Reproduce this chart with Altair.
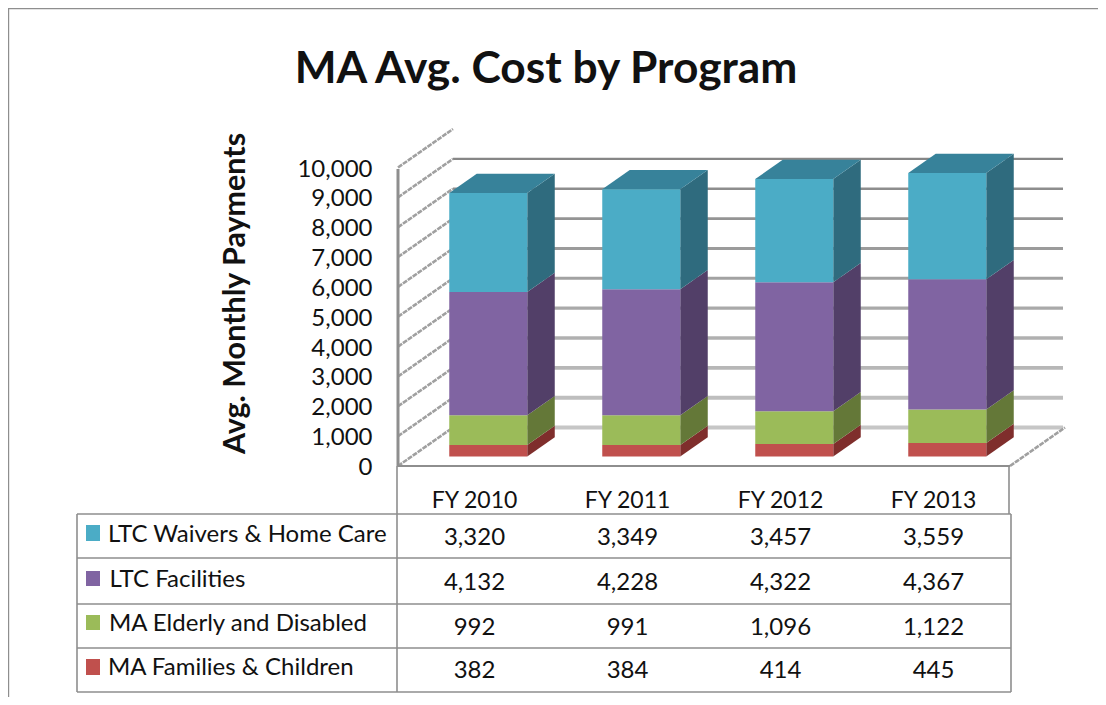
import altair as alt
import pandas as pd

title = "MA Avg. Cost by Program"
y_title = "Avg. Monthly Payments"
years = ["FY 2010", "FY 2011", "FY 2012", "FY 2013"]
families = [382, 384, 414, 445]
elderly = [992, 991, 1096, 1122]
facilities = [4132, 4228, 4322, 4367]
waivers = [3320, 3349, 3457, 3559]
ticks = [0, 1000, 2000, 3000, 4000, 5000, 6000, 7000, 8000, 9000, 10000]
grid_values = [0, 1000, 2000, 3000, 4000, 5000, 6000, 7000, 8000, 9000]

# bottom of the stack first
series = [
    ("MA Families & Children", families, "#C0504D", "#7F2E2C"),
    ("MA Elderly and Disabled", elderly, "#9BBB59", "#647838"),
    ("LTC Facilities", facilities, "#8064A2", "#523F68"),
    ("LTC Waivers & Home Care", waivers, "#4BACC6", "#2F6B7E"),
]
TOP_FACE = "#37829A"
LINE = "#8E8E8E"
FONT = "Lato"

# page geometry
W, H = 1090, 689
LEFT, TOP = 398, 130        # page position of the view corner
VW, VH = 665, 336
PX_UNIT, PX_VAL = 153.0, 0.02985
BASE = 466


def ux(px):
    return (px - LEFT) / PX_UNIT


def uy(py):
    return (BASE - py) / PX_VAL


DX, DY = 55 / PX_UNIT, 38.5 / PX_VAL    # depth of the 3-D box in data units
BAR_W = 78 / PX_UNIT

xs = alt.Scale(domain=[0, VW / PX_UNIT], range=[0, VW], nice=False, zero=False)
ys = alt.Scale(domain=[0, VH / PX_VAL], range=[VH, 0], nice=False, zero=False)
X = alt.X("x:Q", scale=xs, axis=None)
Y = alt.Y("y:Q", scale=ys, axis=None)
X2, Y2 = alt.X2("x2:Q"), alt.Y2("y2:Q")
COLOR = alt.Color("c:N", scale=None)
SIZE = alt.Size("w:Q", scale=None)


def gray(v):
    f = v / 9000
    n = int(198 - (198 - 134) * f)
    return f"#{n:02x}{n:02x}{n:02x}"


# back-wall gridlines
grid = pd.DataFrame([
    {"x": DX, "x2": ux(1063), "y": v + DY, "y2": v + DY, "c": gray(v),
     "w": 4.2 - 1.8 * v / 9000} for v in grid_values])
axis_layer = alt.Chart(pd.DataFrame({"y": ticks})).mark_point(opacity=0).encode(
    y=alt.Y("y:Q", scale=ys, axis=alt.Axis(
        values=ticks, format=",d", domain=False, ticks=False, grid=False,
        labelPadding=26, labelFont=FONT, labelFontSize=24, labelColor="#111111", labelOffset=1.5,
        title=y_title, titleFont=FONT, titleFontSize=30.5, titleFontWeight="bold",
        titleColor="#111111", titleX=-148, titleY=163)),
    x=alt.value(0))
grid_layer = alt.Chart(grid).mark_rule().encode(x=X, x2=X2, y=Y, y2=Y2, color=COLOR, size=SIZE)

# side-wall diagonals
diag = pd.DataFrame([{"x": 0, "x2": DX, "y": v, "y2": v + DY} for v in ticks])
diag = pd.concat([diag, pd.DataFrame([{"x": ux(1010), "x2": ux(1010) + DX, "y": 0, "y2": DY}])])
diag_layer = alt.Chart(diag).mark_rule(color="#A0A0A0", strokeWidth=2.6, strokeDash=[5, 1]).encode(
    x=X, x2=X2, y=Y, y2=Y2)

# bars
fronts = []
face_layers = []


def face(points, col):
    return alt.Chart(pd.DataFrame(points, columns=["x", "y", "y2"])).mark_area(
        color=col, orient="vertical", interpolate="linear", opacity=1).encode(x=X, y=Y, y2=Y2)


for i in range(len(years)):
    x0 = i + 0.5 - BAR_W / 2 + 0.25 * DX
    x1 = x0 + BAR_W
    d, h = 0.5 * DX, 0.5 * DY
    low = 0.25 * DY
    for name, vals, col, side in series:
        up = low + vals[i]
        fronts.append({"x": x0, "x2": x1, "y": low, "y2": up, "c": col})
        face_layers.append(face([(x1, low, up), (x1 + d, low + h, up + h)], side))
        low = up
    face_layers.append(face([(x0, low, low), (x0 + d, low, low + h), (x1, low, low + h),
                             (x1 + d, low + h, low + h)], TOP_FACE))

front_layer = alt.Chart(pd.DataFrame(fronts)).mark_rect().encode(x=X, x2=X2, y=Y, y2=Y2, color=COLOR)

# frame, table rules
r_edges = [514, 558, 604, 648, 692]
lines = [
    {"x": ux(8), "x2": ux(8), "y": uy(8), "y2": uy(705), "w": 2.4},
    {"x": ux(8), "x2": ux(1106), "y": uy(8), "y2": uy(8), "w": 2.4},
    {"x": ux(398), "x2": ux(398), "y": uy(169), "y2": uy(466), "w": 3},
    {"x": ux(397), "x2": ux(1010), "y": uy(466), "y2": uy(466), "w": 2},
    {"x": ux(397), "x2": ux(397), "y": uy(466), "y2": uy(692), "w": 1.6},
    {"x": ux(1009), "x2": ux(1009), "y": uy(466), "y2": uy(514), "w": 1.6},
    {"x": ux(1011), "x2": ux(1011), "y": uy(514), "y2": uy(692), "w": 1.6},
    {"x": ux(77), "x2": ux(77), "y": uy(514), "y2": uy(692), "w": 1.6},
]
for e in r_edges:
    lines.append({"x": ux(77), "x2": ux(1011), "y": uy(e), "y2": uy(e), "w": 1.6})
line_layer = alt.Chart(pd.DataFrame(lines)).mark_rule(color=LINE).encode(x=X, x2=X2, y=Y, y2=Y2, size=SIZE)

# table contents
row_y = [537.5, 582.5, 628, 671]
label_y = [535, 580, 624, 668]
label_x = [108, 109.5, 109, 108]
swatch_y = [(525, 541), (571, 586), (615, 630), (659, 675)]
heads, table, labels, swatches = [], [], [], []
for i, y in enumerate(years):
    heads.append({"x": i + 0.5, "y": uy(501), "t": y})
for r, (name, vals, col, side) in enumerate(reversed(series)):
    labels.append({"x": ux(label_x[r]), "y": uy(label_y[r]), "t": name})
    swatches.append({"x": ux(86), "x2": ux(100), "y": uy(swatch_y[r][0]), "y2": uy(swatch_y[r][1]), "c": col})
    for i, v in enumerate(vals):
        table.append({"x": i + 0.5, "y": uy(row_y[r]), "t": f"{v:,}"})


def texts(rows, size, align="center", weight="normal"):
    return alt.Chart(pd.DataFrame(rows)).mark_text(
        font=FONT, fontSize=size, color="#111111", align=align, baseline="middle",
        fontWeight=weight).encode(x=X, y=Y, text="t:N")


swatch_layer = alt.Chart(pd.DataFrame(swatches)).mark_rect().encode(x=X, x2=X2, y=Y, y2=Y2, color=COLOR)
title_layer = texts([{"x": ux(546), "y": uy(70), "t": title}], 44.3, weight="bold")

chart = alt.layer(
    axis_layer, grid_layer, diag_layer, *face_layers, front_layer,
    line_layer, swatch_layer, texts(heads, 23), texts(table, 24), texts(labels, 24, "left"), title_layer,
).resolve_axis(y="independent").properties(
    width=VW, height=VH,
    autosize=alt.AutoSizeParams(type="none"),
    padding={"left": LEFT - 8, "top": TOP - 8, "right": W - (LEFT - 8) - VW, "bottom": H - (TOP - 8) - VH},
    background="white",
).configure_view(stroke=None)

chart.save("out.html", embed_options={"renderer": "svg", "actions": False})
